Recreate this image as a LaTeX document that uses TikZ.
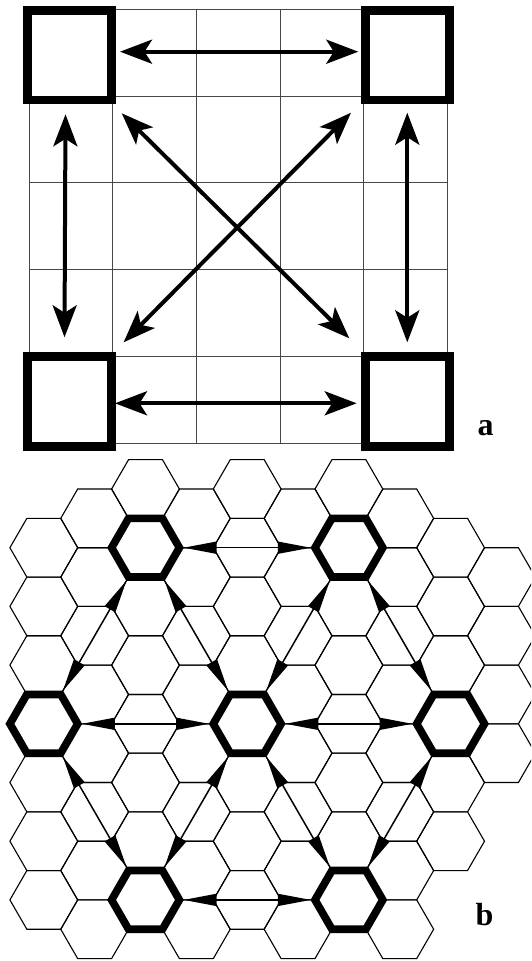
\documentclass[tikz,border=0pt]{standalone}
\usepackage{fontspec}
\setmainfont{Liberation Serif}
\usetikzlibrary{arrows.meta}
\begin{document}
\begin{tikzpicture}[x=1pt,y=-1pt,
  gridline/.style={line width=1pt, black!72},
  cornerbox/.style={line width=8.5pt, line join=miter},
  sqarrow/.style={line width=4pt,
    {Stealth[length=32pt,width=24pt,inset=7.5pt]}-{Stealth[length=32pt,width=24pt,inset=7.5pt]}},
  hexthin/.style={line width=1.1pt, line join=miter},
  hexthick/.style={line width=7.7pt, line join=miter},
  hexarrow/.style={line width=1.5pt,
    {Triangle[length=33pt,width=12pt]}-{Triangle[length=33pt,width=12pt]},
    shorten <=4.2pt, shorten >=4.2pt},
  lbl/.style={font=\bfseries\fontsize{32}{32}\selectfont, inner sep=0pt, anchor=base west}
]
\useasboundingbox (0,0) rectangle (531,961);
\clip (0,0) rectangle (531,961);

% ---------------- part a: square grid ----------------
\foreach \i in {0,...,5} {
  \draw[gridline] (29.3+83.6*\i, 9.3) -- (29.3+83.6*\i, 443.5);
  \draw[gridline] (29.3, 9.3+86.84*\i) -- (447.3, 9.3+86.84*\i);
}
\draw[cornerbox] (27.3,10.5) rectangle (111.5,100);
\draw[cornerbox] (365.5,10.5) rectangle (449.3,100);
\draw[cornerbox] (27.3,356.5) rectangle (111.5,446.5);
\draw[cornerbox] (365.5,356.5) rectangle (449.3,446.5);

\coordinate (aT1) at (120,51.7);    \coordinate (aT2) at (358.3,51.7);
\coordinate (aB1) at (115,403.3);   \coordinate (aB2) at (356.7,403.3);
\coordinate (aL1) at (65.5,114.3);  \coordinate (aL2) at (64.5,337.3);
\coordinate (aR1) at (407.3,112.7); \coordinate (aR2) at (407.3,342.3);
\coordinate (aD1) at (121.7,113.3); \coordinate (aD2) at (349.3,338.3);
\coordinate (aE1) at (351,112.7);   \coordinate (aE2) at (123.6,342.3);
\draw[sqarrow] (aT1) -- (aT2);
\draw[sqarrow] (aB1) -- (aB2);
\draw[sqarrow] (aL1) -- (aL2);
\draw[sqarrow] (aR1) -- (aR2);
\draw[sqarrow] (aD1) -- (aD2);
\draw[sqarrow] (aE1) -- (aE2);

\node[lbl] (la) at (477.5,435) {a};

% ---------------- part b: hexagonal grid ----------------
\def\hs{33.9}
\def\hh{29.35}
\foreach \k/\mlo/\mhi in {0/-3/3,1/-4/3,2/-4/3,3/-4/3,4/-4/3,5/-4/3,6/-4/3,7/-4/3,8/-3/2,9/-3/0} {
  \foreach \m in {\mlo,...,\mhi} {
    \pgfmathsetmacro\cx{43.8+50.85*\k}
    \pgfmathsetmacro\cy{723.8+58.7*\m+29.35*mod(\k,2)}
    \draw[hexthin] (\cx-\hs,\cy) -- (\cx-\hs/2,\cy-\hh) -- (\cx+\hs/2,\cy-\hh)
      -- (\cx+\hs,\cy) -- (\cx+\hs/2,\cy+\hh) -- (\cx-\hs/2,\cy+\hh) -- cycle;
  }
}

\coordinate (TL) at (145.5,547.7);
\coordinate (TR) at (348.9,547.7);
\coordinate (L)  at (43.8,723.8);
\coordinate (C)  at (247.2,723.8);
\coordinate (R)  at (450.6,723.8);
\coordinate (BL) at (145.5,899.9);
\coordinate (BR) at (348.9,899.9);

\foreach \n in {TL,TR,L,C,R,BL,BR} {
  \coordinate (\n-e)  at ([shift={(\hs,0)}]\n);
  \coordinate (\n-w)  at ([shift={(-\hs,0)}]\n);
  \coordinate (\n-ne) at ([shift={(\hs/2,-\hh)}]\n);
  \coordinate (\n-nw) at ([shift={(-\hs/2,-\hh)}]\n);
  \coordinate (\n-se) at ([shift={(\hs/2,\hh)}]\n);
  \coordinate (\n-sw) at ([shift={(-\hs/2,\hh)}]\n);
  \draw[hexthick] (\n-w) -- (\n-nw) -- (\n-ne) -- (\n-e) -- (\n-se) -- (\n-sw) -- cycle;
}

\draw[hexarrow] (TL-e) -- (TR-w);
\draw[hexarrow] (L-e) -- (C-w);
\draw[hexarrow] (C-e) -- (R-w);
\draw[hexarrow] (BL-e) -- (BR-w);
\draw[hexarrow] (TL-sw) -- (L-ne);
\draw[hexarrow] (TL-se) -- (C-nw);
\draw[hexarrow] (TR-sw) -- (C-ne);
\draw[hexarrow] (TR-se) -- (R-nw);
\draw[hexarrow] (L-se) -- (BL-nw);
\draw[hexarrow] (C-sw) -- (BL-ne);
\draw[hexarrow] (C-se) -- (BR-nw);
\draw[hexarrow] (R-sw) -- (BR-ne);

\node[lbl] (lb) at (475.5,925) {b};
\end{tikzpicture}
\end{document}
